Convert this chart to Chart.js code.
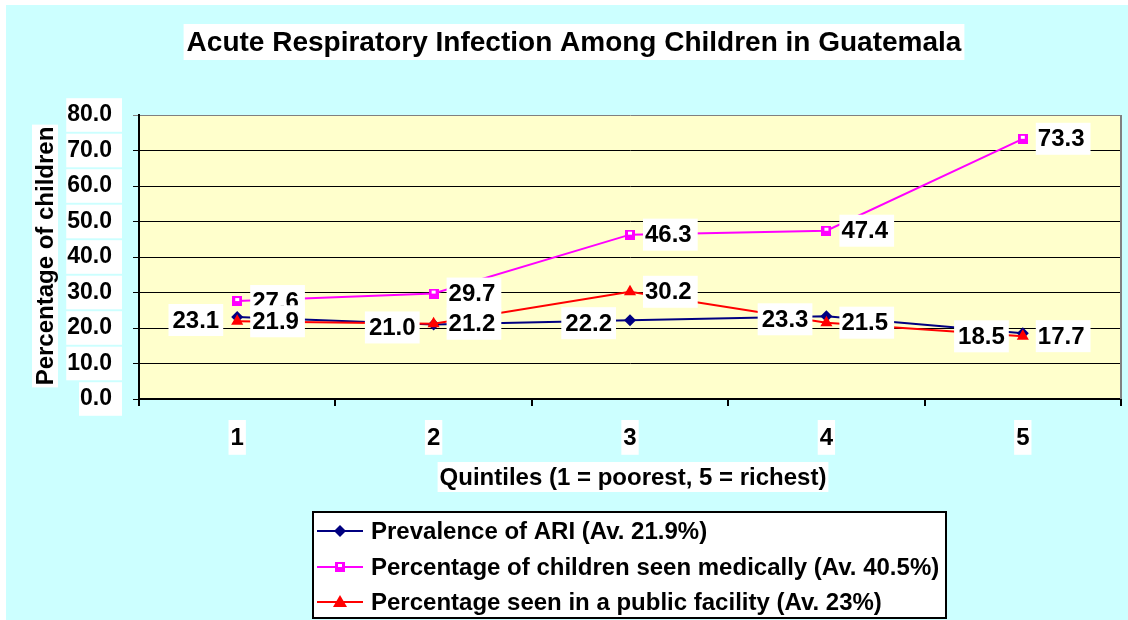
<!DOCTYPE html>
<html>
<head>
<meta charset="utf-8">
<script src="https://cdn.jsdelivr.net/npm/chart.js@4/dist/chart.umd.min.js"></script>
<style>
  html, body { margin: 0; padding: 0; background: #fff; overflow: hidden; }
  #wrap { position: relative; width: 1128px; height: 620px; }
</style>
</head>
<body>
<div id="wrap"><canvas id="ariChart" width="1128" height="620"></canvas></div>
<script>
// Dữ liệu
const quintiles = ['1', '2', '3', '4', '5'];
const ariValues = [23.1, 21.0, 22.2, 23.3, 18.5];
const medicalValues = [27.6, 29.7, 46.3, 47.4, 73.3];
const publicValues = [21.9, 21.2, 30.2, 21.5, 17.7];
const seriesNames = [
    'Prevalence of ARI (Av. 21.9%)',
    'Percentage of children seen medically (Av. 40.5%)',
    'Percentage seen in a public facility (Av. 23%)'
];
const chartTitle = 'Acute Respiratory Infection Among Children in Guatemala';
const yTitle = 'Percentage of children';
const xTitle = 'Quintiles (1 = poorest, 5 = richest)';

const FONT = '"Liberation Sans", Arial, sans-serif';
const NAVY = '#000080', MAGENTA = '#ff00ff', RED = '#ff0000';

// Marker hình vuông hồng có ô trắng nhỏ bên trong
function makeSquareMarker() {
    const c = document.createElement('canvas');
    c.width = 10; c.height = 10;
    const g = c.getContext('2d');
    g.fillStyle = MAGENTA;
    g.fillRect(0, 0, 10, 10);
    g.fillStyle = '#fff';
    g.fillRect(3, 2, 4, 3);
    return c;
}
const squareMarker = makeSquareMarker();

function boxText(ctx, text, x, y, align, font, padL, padR, boxH) {
    ctx.save();
    ctx.font = font;
    const w = ctx.measureText(text).width;
    let left = align === 'right' ? x - w : (align === 'center' ? x - w / 2 : x);
    ctx.fillStyle = '#fff';
    ctx.fillRect(left - padL, y - boxH / 2, w + padL + padR, boxH);
    ctx.fillStyle = '#000';
    ctx.textAlign = 'left';
    ctx.textBaseline = 'middle';
    ctx.fillText(text, left, y + 1);
    ctx.restore();
}

function drawMarker(ctx, kind, x, y) {
    ctx.save();
    if (kind === 0) {
        ctx.fillStyle = NAVY;
        ctx.beginPath();
        ctx.moveTo(x, y - 6); ctx.lineTo(x + 6, y); ctx.lineTo(x, y + 6); ctx.lineTo(x - 6, y);
        ctx.closePath(); ctx.fill();
    } else if (kind === 1) {
        ctx.drawImage(squareMarker, x - 5, y - 5);
    } else {
        ctx.fillStyle = RED;
        ctx.beginPath();
        ctx.moveTo(x, y - 7); ctx.lineTo(x + 7, y + 5); ctx.lineTo(x - 7, y + 5);
        ctx.closePath(); ctx.fill();
    }
    ctx.restore();
}

const decorPlugin = {
    id: 'decor',
    beforeDraw(chart) {
        const { ctx, chartArea: a } = chart;
        ctx.save();
        ctx.fillStyle = '#fff';
        ctx.fillRect(0, 0, chart.width, chart.height);
        ctx.fillStyle = '#ccffff';
        ctx.fillRect(6, 5, chart.width - 6, chart.height - 5);
        ctx.fillStyle = '#ffffcc';
        ctx.fillRect(a.left, a.top, a.right - a.left, a.bottom - a.top);
        ctx.restore();
    },
    afterDatasetsDraw(chart) {
        const ctx = chart.ctx;
        const font = 'bold 24px ' + FONT;
        [0, 1, 2].forEach(di => {
            const meta = chart.getDatasetMeta(di);
            const values = chart.data.datasets[di].data;
            meta.data.forEach((pt, i) => {
                const txt = values[i].toFixed(1);
                if (di === 0) boxText(ctx, txt, pt.x - 18, pt.y + 3, 'right', font, 4, 4, 32);
                else boxText(ctx, txt, pt.x + 15, pt.y, 'left', font, 2, 6, 32);
            });
        });
    },
    afterDraw(chart) {
        const { ctx, chartArea: a } = chart;
        ctx.save();
        // viền phải của vùng vẽ
        ctx.strokeStyle = '#808080';
        ctx.lineWidth = 2;
        ctx.beginPath();
        ctx.moveTo(a.right, a.top); ctx.lineTo(a.right, a.bottom);
        ctx.stroke();
        ctx.restore();

        // Tiêu đề
        boxText(ctx, chartTitle, 574, 42, 'center', 'bold 28px ' + FONT, 3, 3, 36);
        // Trục X
        boxText(ctx, xTitle, 633, 477, 'center', 'bold 24px ' + FONT, 2, 2, 30);
        // Trục Y (xoay)
        ctx.save();
        ctx.translate(45, 256);
        ctx.rotate(-Math.PI / 2);
        boxText(ctx, yTitle, 0, 0, 'center', 'bold 24px ' + FONT, 2, 2, 26);
        ctx.restore();

        // Chú giải
        ctx.save();
        ctx.fillStyle = '#fff';
        ctx.fillRect(313, 512, 633, 106);
        ctx.strokeStyle = '#000';
        ctx.lineWidth = 2;
        ctx.strokeRect(313, 512, 633, 106);
        const rows = [531, 567, 602];
        const colors = [NAVY, MAGENTA, RED];
        rows.forEach((ry, i) => {
            ctx.strokeStyle = colors[i];
            ctx.lineWidth = 2;
            ctx.beginPath();
            ctx.moveTo(317, ry); ctx.lineTo(363, ry);
            ctx.stroke();
            drawMarker(ctx, i, 340, ry);
            ctx.fillStyle = '#000';
            ctx.font = 'bold 24px ' + FONT;
            ctx.textAlign = 'left';
            ctx.textBaseline = 'middle';
            ctx.fillText(seriesNames[i], 371, ry + 1);
        });
        ctx.restore();
    }
};

new Chart(document.getElementById('ariChart'), {
    type: 'line',
    data: {
        labels: quintiles,
        datasets: [
            { label: seriesNames[0], data: ariValues, borderColor: NAVY, backgroundColor: NAVY,
              borderWidth: 2, pointStyle: 'rectRot', pointRadius: 6, pointBorderWidth: 0, order: 2 },
            { label: seriesNames[1], data: medicalValues, borderColor: MAGENTA, backgroundColor: MAGENTA,
              borderWidth: 2, pointStyle: squareMarker, order: 1 },
            { label: seriesNames[2], data: publicValues, borderColor: RED, backgroundColor: RED,
              borderWidth: 2, pointStyle: 'triangle', pointRadius: 7, pointBorderWidth: 0, order: 0 }
        ]
    },
    options: {
        responsive: false,
        animation: false,
        devicePixelRatio: 1,
        layout: { padding: { top: 115, right: 5, bottom: 0, left: 0 } },
        plugins: { legend: { display: false }, title: { display: false }, tooltip: { enabled: false } },
        scales: {
            x: {
                offset: true,
                grid: { offset: true, drawOnChartArea: false, color: '#000', tickLength: 7, lineWidth: 2 },
                border: { color: '#000', width: 2 },
                ticks: {
                    color: '#000', font: { family: FONT, size: 24, weight: 'bold' }, padding: 18,
                    showLabelBackdrop: true, backdropColor: '#fff',
                    backdropPadding: { top: 4, bottom: 2, left: 2, right: 2 }
                },
                afterFit(scale) { scale.height = 221; }
            },
            y: {
                min: 0, max: 80,
                grid: {
                    color: ctx => (ctx.tick && ctx.tick.value === 80 ? '#808080' : '#000'),
                    tickLength: 6, lineWidth: 1
                },
                border: { color: '#000', width: 2 },
                ticks: {
                    stepSize: 10, color: '#000', padding: 21,
                    font: { family: FONT, size: 23, weight: 'bold' },
                    callback: v => v.toFixed(1),
                    showLabelBackdrop: true, backdropColor: '#fff',
                    backdropPadding: { top: 3, bottom: 3, left: 1, right: 10 }
                },
                afterFit(scale) { scale.width = 139; }
            }
        }
    },
    plugins: [decorPlugin]
});
</script>
</body>
</html>
